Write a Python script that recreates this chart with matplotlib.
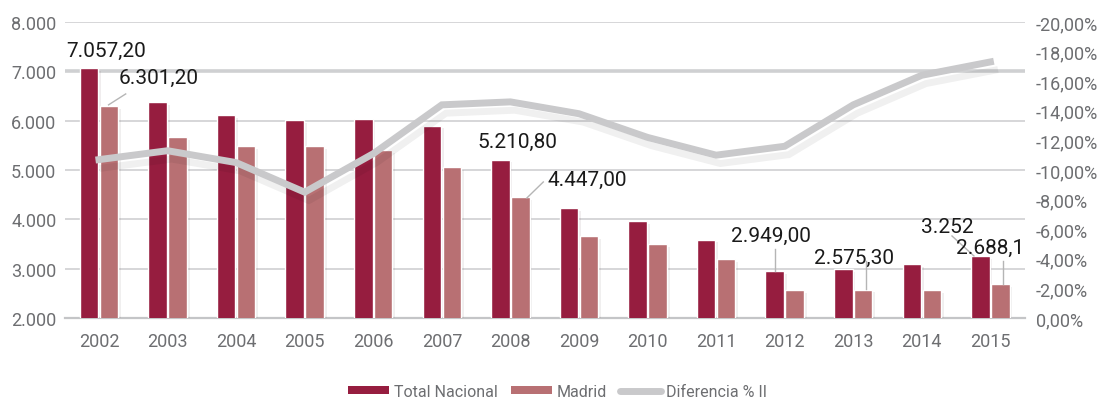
import numpy as np
import matplotlib.pyplot as plt
import matplotlib.patheffects as pe
from matplotlib.lines import Line2D
from matplotlib.patches import Patch

plt.rcParams['font.family'] = ['Roboto', 'DejaVu Sans']

years = ['2002', '2003', '2004', '2005', '2006', '2007', '2008',
         '2009', '2010', '2011', '2012', '2013', '2014', '2015']
total_nacional = [7057.2, 6372, 6109, 6008, 6028, 5898, 5210.8,
                  4230, 3960, 3588, 2949.0, 2993, 3095, 3252]
madrid = [6301.2, 5663, 5487, 5487, 5406, 5055, 4447.0,
          3656, 3500, 3196, 2568, 2575.3, 2568, 2688.1]
diferencia = [-10.7, -11.3, -10.5, -8.5, -11.1, -14.4, -14.6,
              -13.8, -12.2, -11.0, -11.6, -14.4, -16.4, -17.3]

# labelled points: (text, text position)
labels = [
    ('7.057,20', (-0.47, 7433)),
    ('6.301,20', (0.29, 6885)),
    ('5.210,80', (5.52, 5574)),
    ('4.447,00', (6.54, 4804)),
    ('2.949,00', (9.22, 3668)),
    ('2.575,30', (10.43, 3237)),
    ('3.252', (11.99, 3845)),
    ('2.688,1', (12.50, 3439)),
]
# leader lines: (x0, y0, x1, y1) in data units
leaders = [
    (0.14, 6320, 0.39, 6541),
    (6.24, 4432, 6.48, 4757),
    (9.86, 2953, 9.86, 3399),
    (11.19, 2580, 11.19, 3155),
    (12.76, 3257, 12.44, 3662),
    (13.19, 2689, 13.19, 3155),
]

c_total = '#961d3f'
c_madrid = '#b87073'
c_line = '#c9c9cb'
c_text = '#6d6e71'

fig = plt.figure(figsize=(11.15, 4.10), dpi=100)
ax = fig.add_axes([0.058, 0.222, 0.861, 0.722])
x = np.arange(len(years))
w = 0.27
shadow = [pe.SimplePatchShadow(offset=(2, -2), alpha=0.07), pe.Normal()]
ax.bar(x - 0.145, total_nacional, w, bottom=0, color=c_total, edgecolor='white',
       linewidth=1, zorder=3, path_effects=shadow)
ax.bar(x + 0.145, madrid, w, bottom=0, color=c_madrid, edgecolor='white',
       linewidth=1, zorder=3, path_effects=shadow)

ax.set_ylim(2000, 8000)
ax.set_xlim(-0.5, len(years) - 0.5)
ax.set_yticks(np.arange(2000, 8001, 1000))
ax.set_yticklabels(['2.000', '3.000', '4.000', '5.000', '6.000', '7.000', '8.000'])
ax.set_xticks(x)
ax.set_xticklabels(years)
for yv in range(3000, 8001, 1000):
    ax.axhline(yv, color='#cfd0d2', lw=2.6 if yv == 7000 else 1.2, zorder=1)
for s in ['top', 'right', 'left']:
    ax.spines[s].set_visible(False)
ax.spines['bottom'].set_color('#c4c5c7')
ax.spines['bottom'].set_linewidth(1.6)
ax.tick_params(axis='both', length=0, colors=c_text, labelsize=13)
ax.tick_params(axis='x', pad=10)
ax.tick_params(axis='y', pad=6)

for txt, pos in labels:
    ax.text(pos[0], pos[1], txt, fontsize=15, color='#1a1a1a', ha='left',
            va='center', zorder=6)
for x0, y0, x1, y1 in leaders:
    ax.plot([x0, x1], [y0, y1], color='#b5b5b5', lw=1, zorder=5)

ax2 = ax.twinx()
ax2.plot(x, diferencia, color=c_line, lw=5, solid_joinstyle='miter',
         path_effects=[pe.SimpleLineShadow(offset=(3, -6), alpha=0.06, shadow_color='black'),
                       pe.Normal()])
ax2.set_ylim(0, -20)
ax2.set_yticks(np.arange(0, -20.1, -2))
ax2.set_yticklabels(['%d,00%%' % v if v == 0 else '-%d,00%%' % abs(v)
                     for v in np.arange(0, -20.1, -2)])
for s in ['top', 'right', 'left', 'bottom']:
    ax2.spines[s].set_visible(False)
ax2.tick_params(axis='y', length=0, colors=c_text, labelsize=13, pad=8)

handles = [Patch(facecolor=c_total, label='Total Nacional'),
           Patch(facecolor=c_madrid, label='Madrid'),
           Line2D([0], [0], color=c_line, lw=5, solid_capstyle='round',
                  label='Diferencia % II')]
fig.legend(handles=handles, loc='lower center', bbox_to_anchor=(0.5, -0.01),
           ncol=3, frameon=False, fontsize=11.5, labelcolor=c_text,
           handlelength=2.6, handleheight=0.45, handletextpad=0.3, columnspacing=0.8)

fig.savefig('out.png', dpi=100)
